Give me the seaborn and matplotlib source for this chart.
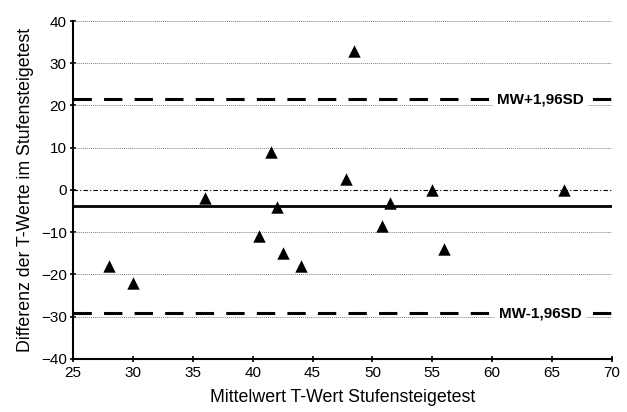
import numpy as np
import pandas as pd
import matplotlib.pyplot as plt
import seaborn as sns


# -----------------------------
# DATA
# -----------------------------
mittelwert = [28.0, 30.0, 36.0, 40.5, 41.5, 42.0, 42.5, 44.0, 47.8, 48.5, 50.8, 51.5, 55.0, 56.0, 66.0]
differenz = [-18.0, -22.0, -2.0, -11.0, 9.0, -4.0, -15.0, -18.0, 2.5, 33.0, -8.5, -3.0, 0.0, -14.0, 0.0]

mw = -3.85
upper = 21.5
lower = -29.2

x_ticks = [25, 30, 35, 40, 45, 50, 55, 60, 65, 70]
y_ticks = [-40, -30, -20, -10, 0, 10, 20, 30, 40]

df = pd.DataFrame({"mittelwert": mittelwert, "differenz": differenz})


# -----------------------------
# STYLE
# -----------------------------
sns.set_style("ticks")
plt.rcParams["font.family"] = ["Liberation Sans", "DejaVu Sans"]
plt.rcParams["text.color"] = "black"
plt.rcParams["axes.labelcolor"] = "black"

fig = plt.figure(figsize=(6.27, 4.12), dpi=100)
ax = fig.add_axes([0.1164, 0.129, 0.8596, 0.82])


# -----------------------------
# GRID + REFERENCE LINES
# -----------------------------
for y in y_ticks:
    if y == 0:
        ax.axhline(y, color="black", lw=0.8, ls=(0, (4, 2, 1, 2)), zorder=1)
    elif y != -40:
        ax.axhline(y, color="#808080", lw=0.7, ls=(0, (1, 1)), zorder=1)

ax.axhline(mw, color="black", lw=2, zorder=2)
ax.axhline(upper, color="black", lw=2.2, ls=(0, (6, 4)), zorder=2)
ax.axhline(lower, color="black", lw=2.2, ls=(0, (6, 4)), zorder=2)


# -----------------------------
# SCATTER
# -----------------------------
sns.scatterplot(
    data=df,
    x="mittelwert",
    y="differenz",
    marker="^",
    color="black",
    s=80,
    edgecolor="black",
    linewidth=0,
    ax=ax,
    zorder=3
)


# -----------------------------
# LABELS ON THE LIMIT LINES
# -----------------------------
box = dict(facecolor="white", edgecolor="none", pad=3)
ax.text(64.05, upper, "MW+1,96SD", ha="center", va="center",
        fontsize=11, fontweight="bold", bbox=box, zorder=4)
ax.text(64.05, lower, "MW-1,96SD", ha="center", va="center",
        fontsize=11, fontweight="bold", bbox=box, zorder=4)


# -----------------------------
# AXES
# -----------------------------
ax.set_xlim(25, 70)
ax.set_ylim(-40, 40)
ax.set_xticks(x_ticks)
ax.set_yticks(y_ticks)

ax.set_xlabel("Mittelwert T-Wert Stufensteigetest", fontsize=12.8, labelpad=6)
ax.set_ylabel("Differenz der T-Werte im Stufensteigetest", fontsize=12.8, labelpad=5)

sns.despine(ax=ax)
for side in ["left", "bottom"]:
    ax.spines[side].set_color("black")
    ax.spines[side].set_linewidth(1.5)

ax.tick_params(axis="both", labelsize=11, colors="black",
               direction="inout", length=5, width=1.2, pad=2)
ax.tick_params(axis="x", pad=3)

plt.savefig("out.png", dpi=100)
